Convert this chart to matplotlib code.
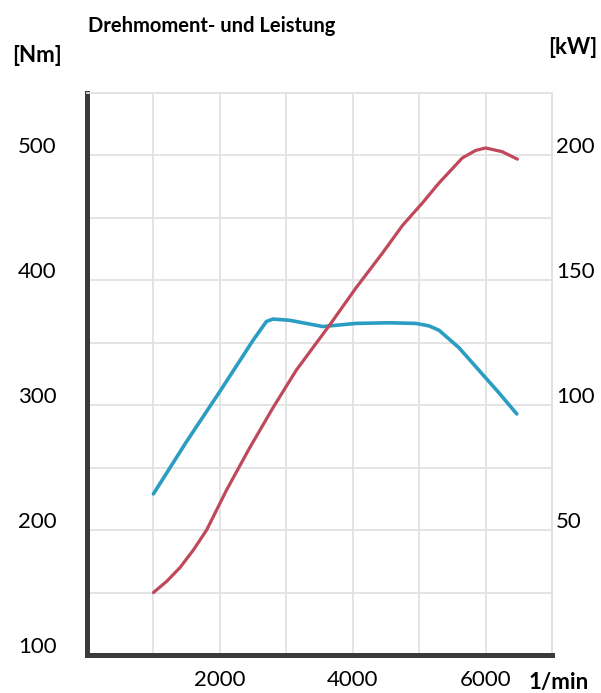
import matplotlib.pyplot as plt
import matplotlib.transforms as mtransforms

# --------------------------------------------------------------------------------
# DATA
# --------------------------------------------------------------------------------
torque_rpm = [1000, 1500, 2000, 2500, 2700, 2800, 3050, 3550, 4050, 4550, 4950, 5150, 5300, 5600, 5900, 6200, 6470]
torque_nm  = [229, 271, 311, 352, 367, 369, 368, 363, 365.5, 366, 365.5, 363.5, 360, 346, 328, 310, 293]

power_rpm = [1000, 1200, 1400, 1600, 1800, 1950, 2100, 2450, 2800, 3150, 3650, 4050, 4450, 4750, 5050, 5300, 5650, 5850, 6000, 6250, 6480]
power_kw  = [25, 29.5, 35, 42, 50, 58, 66, 83, 99, 114, 132, 147, 161, 172, 181, 189, 199, 202, 203, 201.5, 198.5]

nm_ticks = [100, 200, 300, 400, 500]
kw_ticks = [50, 100, 150, 200]
rpm_ticks = [2000, 4000, 6000]

plt.rcParams['font.family'] = ['Lato', 'DejaVu Sans']

fig = plt.figure(figsize=(6.01, 6.93), dpi=100)
ax = fig.add_axes([87 / 601, 38 / 693, 465 / 601, 562 / 693])
ax2 = ax.twinx()

# Torque on the left axis, power on the right
ax.plot(torque_rpm, torque_nm, color='#2b9cc2', linewidth=2.6, solid_capstyle='round',
        solid_joinstyle='round', zorder=3)
ax2.plot(power_rpm, power_kw, color='#c0485b', linewidth=2.3, solid_capstyle='round',
         solid_joinstyle='round', zorder=3)

ax.set_xlim(0, 7000)
ax.set_ylim(100, 550)
ax2.set_ylim(0, 225)

ax.set_xticks(rpm_ticks)
ax.set_xticks(range(1000, 7001, 1000), minor=True)
ax.set_yticks(nm_ticks)
ax.set_yticks(range(150, 551, 100), minor=True)
ax2.set_yticks(kw_ticks)

ax.grid(True, which='both', color='#e2e2e2', linewidth=1.3)
ax.set_axisbelow(True)

ax.tick_params(which='both', length=0)
ax.tick_params(axis='y', labelsize=16, pad=22)
ax.tick_params(axis='x', labelsize=16, pad=11)
ax2.tick_params(length=0, labelsize=16, pad=3)

# labels sit a little above their grid lines
up = mtransforms.ScaledTranslation(0, 10 / 100, fig.dpi_scale_trans)
for lbl in ax.get_yticklabels() + ax2.get_yticklabels():
    lbl.set_transform(lbl.get_transform() + up)

for a in (ax, ax2):
    a.spines['left'].set_color('#3a3a3a')
    a.spines['left'].set_linewidth(3.5)
    a.spines['bottom'].set_color('#3a3a3a')
    a.spines['bottom'].set_linewidth(3.5)
    a.spines['top'].set_color('#e2e2e2')
    a.spines['top'].set_linewidth(1.3)
    a.spines['right'].set_color('#e2e2e2')
    a.spines['right'].set_linewidth(1.3)

fig.text(88 / 601, 1 - 26 / 693, 'Drehmoment- und Leistung', fontsize=14.5, fontweight='bold',
         ha='left', va='center')
fig.text(12 / 601, 1 - 55 / 693, '[Nm]', fontsize=16, fontweight='bold', ha='left', va='center')
fig.text(597 / 601, 1 - 47 / 693, '[kW]', fontsize=16, fontweight='bold', ha='right', va='center')
fig.text(559 / 601, 1 - 682 / 693, '1/min', fontsize=16, fontweight='bold', ha='center', va='center')

fig.savefig('out.png', dpi=100)
